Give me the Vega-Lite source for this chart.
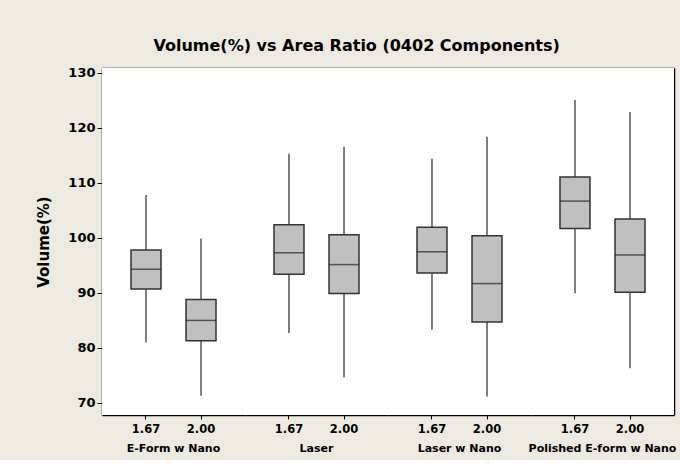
{
  "$schema": "https://vega.github.io/schema/vega-lite/v6.json",
  "background": "#EDEAE1",
  "padding": {"left": 36, "top": 37, "right": 5, "bottom": 6},
  "title": {
    "text": "Volume(%) vs Area Ratio (0402 Components)",
    "font": "DejaVu Sans",
    "fontSize": 16,
    "fontWeight": "bold",
    "color": "#000000",
    "anchor": "middle",
    "offset": 13
  },
  "data": {
    "values": [
      {"group": "E-Form w Nano", "ratio": "1.67", "lower": 81.0, "q1": 90.7, "median": 94.3, "q3": 97.8, "upper": 107.8},
      {"group": "E-Form w Nano", "ratio": "2.00", "lower": 71.3, "q1": 81.3, "median": 85.0, "q3": 88.8, "upper": 99.9},
      {"group": "Laser", "ratio": "1.67", "lower": 82.7, "q1": 93.4, "median": 97.3, "q3": 102.4, "upper": 115.3},
      {"group": "Laser", "ratio": "2.00", "lower": 74.6, "q1": 89.9, "median": 95.15, "q3": 100.6, "upper": 116.6},
      {"group": "Laser w Nano", "ratio": "1.67", "lower": 83.3, "q1": 93.6, "median": 97.5, "q3": 101.95, "upper": 114.4},
      {"group": "Laser w Nano", "ratio": "2.00", "lower": 71.15, "q1": 84.7, "median": 91.7, "q3": 100.4, "upper": 118.4},
      {"group": "Polished E-form w Nano", "ratio": "1.67", "lower": 89.95, "q1": 101.7, "median": 106.7, "q3": 111.1, "upper": 125.1},
      {"group": "Polished E-form w Nano", "ratio": "2.00", "lower": 76.3, "q1": 90.1, "median": 96.9, "q3": 103.45, "upper": 122.9}
    ]
  },
  "facet": {
    "column": {
      "field": "group",
      "type": "nominal",
      "sort": ["E-Form w Nano", "Laser", "Laser w Nano", "Polished E-form w Nano"],
      "header": {
        "title": null,
        "labelOrient": "bottom",
        "labelFont": "DejaVu Sans",
        "labelFontSize": 11,
        "labelFontWeight": "bold",
        "labelColor": "#000000",
        "labelPadding": 8
      }
    }
  },
  "spacing": 0,
  "spec": {
    "width": 143,
    "height": 347,
    "layer": [
      {
        "mark": {"type": "rule", "color": "#2a2a2a", "strokeWidth": 1.2},
        "encoding": {
          "x": {
            "field": "ratio", "type": "nominal", "title": null,
            "scale": {"type": "band", "paddingInner": 0.455, "paddingOuter": 0.527},
            "axis": {"orient": "bottom", "labelAngle": 0, "labelFont": "DejaVu Sans", "labelFontSize": 11.5, "labelFontWeight": "bold", "labelColor": "#000000", "domainColor": "#000000", "domainWidth": 1.5, "tickColor": "#000000", "tickSize": 4, "labelPadding": 4}
          },
          "y": {
            "field": "lower", "type": "quantitative", "title": "Volume(%)",
            "scale": {"domain": [67.8, 130.9], "nice": false, "zero": false},
            "axis": {"orient": "left", "values": [70, 80, 90, 100, 110, 120, 130], "grid": false, "labelFont": "DejaVu Sans", "labelFontSize": 13, "labelFontWeight": "bold", "labelColor": "#000000", "titleFont": "DejaVu Sans", "titleFontSize": 15, "titleFontWeight": "bold", "titleColor": "#000000", "domainColor": "#000000", "domainWidth": 1.5, "tickColor": "#000000", "tickSize": 5, "labelPadding": 2, "titlePadding": 16}
          },
          "y2": {"field": "upper"}
        }
      },
      {
        "mark": {"type": "bar", "fill": "#C0C0C0", "stroke": "#333333", "strokeWidth": 1.5},
        "encoding": {
          "x": {
            "field": "ratio", "type": "nominal",
            "axis": {"orient": "top", "labels": false, "ticks": false, "title": null, "domainColor": "#000000", "domainWidth": 1.5}
          },
          "y": {
            "field": "q1", "type": "quantitative",
            "axis": {"orient": "right", "labels": false, "ticks": false, "grid": false, "title": null, "domainColor": "#000000", "domainWidth": 1.5}
          },
          "y2": {"field": "q3"}
        }
      },
      {
        "mark": {"type": "tick", "color": "#222222", "thickness": 1.5, "size": 30},
        "encoding": {
          "x": {"field": "ratio", "type": "nominal", "axis": null},
          "y": {"field": "median", "type": "quantitative", "axis": null}
        }
      }
    ],
    "resolve": {"axis": {"x": "independent", "y": "independent"}}
  },
  "config": {
    "view": {"stroke": null, "fill": "#FFFFFF"},
    "axis": {"grid": false}
  }
}
